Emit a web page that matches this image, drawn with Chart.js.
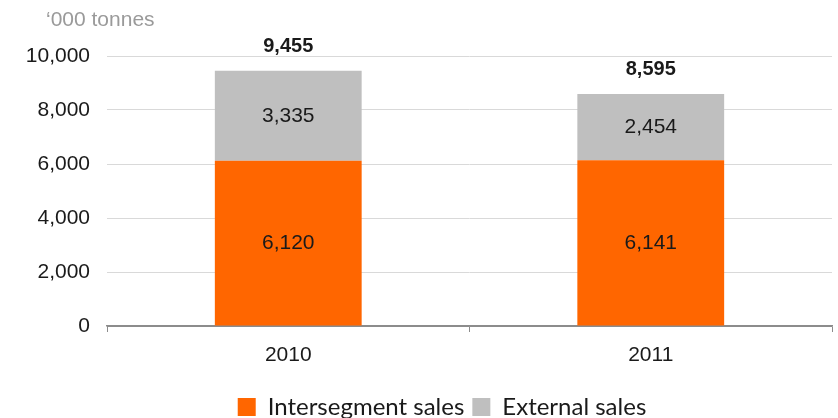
<!DOCTYPE html>
<html>
<head>
<meta charset="utf-8">
<script src="https://cdn.jsdelivr.net/npm/chart.js@4.4.1/dist/chart.umd.min.js"></script>
<style>
    html, body { margin: 0; padding: 0; background: #fff; }
    #wrap { position: relative; width: 838px; height: 418px; }
</style>
</head>
<body>
<div id="wrap"><canvas id="salesChart" width="838" height="418"></canvas></div>
<script>
// Sales volumes, '000 tonnes
const years = ['2010', '2011'];
const intersegmentSales = [6120, 6141];
const externalSales = [3335, 2454];
const totals = [9455, 8595];
const yTicks = [0, 2000, 4000, 6000, 8000, 10000];

const theme = {
    orange: '#ff6600',
    grey: '#bfbfbf',
    grid: '#d9d9d9',
    axis: '#8c8c8c',
    text: '#1a1a1a',
    unit: '#9a9a9a'
};

const fmt = v => v.toLocaleString('en-US');
const axisFont = { family: "'Liberation Sans', sans-serif", size: 21 };

// Values inside each segment plus bold totals above the stacks
const labelPlugin = {
    id: 'segmentLabels',
    afterLayout(chart) {
        // nudge the legend a little right and down
        const lg = chart.legend;
        lg.left += 26; lg.right += 26;
        lg.top += 11; lg.bottom += 11;
    },
    afterDatasetsDraw(chart) {
        const ctx = chart.ctx;
        const yScale = chart.scales.y;
        ctx.save();
        ctx.textAlign = 'center';
        ctx.textBaseline = 'middle';
        ctx.fillStyle = theme.text;
        ctx.font = "21px 'Liberation Sans', sans-serif";
        chart.data.datasets.forEach((ds, i) => {
            chart.getDatasetMeta(i).data.forEach((bar, j) => {
                const mid = (bar.y + bar.base) / 2;
                ctx.fillText(fmt(ds.data[j]), bar.x, mid);
            });
        });
        ctx.font = "bold 20px 'Liberation Sans', sans-serif";
        chart.getDatasetMeta(0).data.forEach((bar, j) => {
            ctx.fillText(fmt(totals[j]), bar.x, yScale.getPixelForValue(totals[j]) - 24);
        });
        // unit caption
        ctx.textAlign = 'left';
        ctx.fillStyle = theme.unit;
        ctx.font = "21px 'Liberation Sans', sans-serif";
        ctx.fillText("\u2018000 tonnes", 46, 20);
        ctx.restore();
    }
};

new Chart(document.getElementById('salesChart'), {
    type: 'bar',
    data: {
        labels: years,
        datasets: [
            {
                label: 'Intersegment sales',
                data: intersegmentSales,
                backgroundColor: theme.orange,
                categoryPercentage: 1,
                barPercentage: 0.405
            },
            {
                label: 'External sales',
                data: externalSales,
                backgroundColor: theme.grey,
                categoryPercentage: 1,
                barPercentage: 0.405
            }
        ]
    },
    options: {
        responsive: false,
        animation: false,
        layout: { padding: { top: 56, right: 6, left: 0, bottom: 0 } },
        plugins: {
            legend: {
                position: 'bottom',
                labels: {
                    boxWidth: 18,
                    boxHeight: 18,
                    padding: 8,
                    color: theme.text,
                    font: { family: "Lato, 'Open Sans', sans-serif", size: 24 }
                }
            },
            tooltip: { enabled: false }
        },
        scales: {
            x: {
                stacked: true,
                border: { color: theme.axis, width: 1.5 },
                grid: {
                    offset: true,
                    drawOnChartArea: false,
                    drawTicks: true,
                    tickLength: 6,
                    color: theme.axis
                },
                ticks: { color: theme.text, font: axisFont, padding: 11 },
                afterFit: axis => { axis.height = 50; }
            },
            y: {
                stacked: true,
                min: 0,
                max: 10000,
                afterBuildTicks: axis => { axis.ticks = yTicks.map(v => ({ value: v })); },
                afterFit: axis => { axis.width = 107; },
                border: { display: false },
                grid: {
                    drawTicks: false,
                    color: ctx => ctx.tick.value === 0 ? theme.axis : theme.grid
                },
                ticks: {
                    color: theme.text,
                    font: axisFont,
                    padding: 17,
                    callback: v => fmt(v)
                }
            }
        }
    },
    plugins: [labelPlugin]
});
</script>
</body>
</html>
